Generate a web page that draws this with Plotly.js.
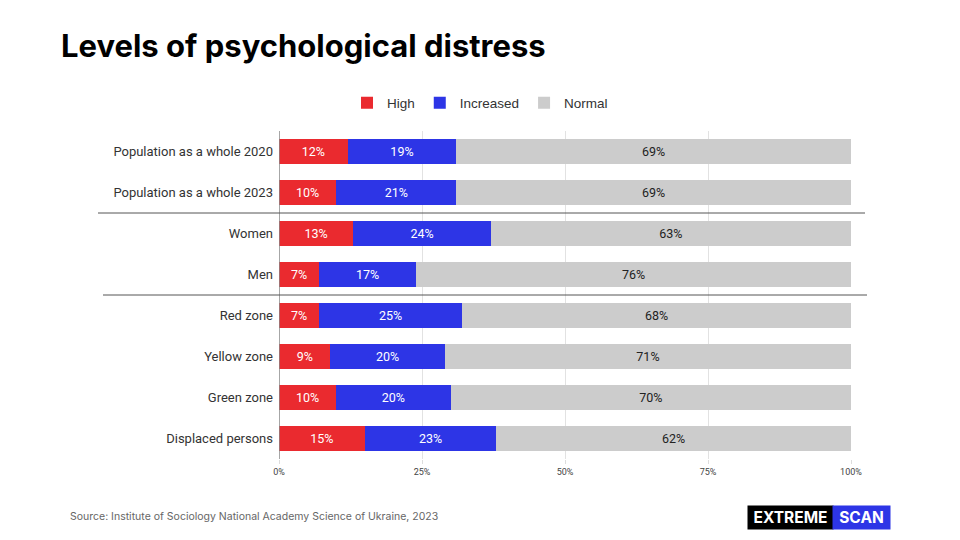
<!DOCTYPE html>
<html>
<head>
<meta charset="utf-8">
<script src="https://cdn.plot.ly/plotly-3.0.1.min.js"></script>
<style>
  html, body { margin: 0; padding: 0; background: #ffffff; }
  #chart { width: 960px; height: 540px; }
</style>
</head>
<body>
<div id="chart"></div>
<script>
// Groups shown on the vertical axis, top to bottom
const groups = [
  "Population as a whole 2020",
  "Population as a whole 2023",
  "Women",
  "Men",
  "Red zone",
  "Yellow zone",
  "Green zone",
  "Displaced persons"
];

// Share of respondents (%) in each distress level
const high      = [12, 10, 13, 7, 7, 9, 10, 15];
const increased = [19, 21, 24, 17, 25, 20, 20, 23];
const normal    = [69, 69, 63, 76, 68, 71, 70, 62];

const xTicks = [0, 25, 50, 75, 100];
const xTickLabels = ["0%", "25%", "50%", "75%", "100%"];

const labelFont = "Roboto, Arial, sans-serif";

function series(name, values, color, textColor) {
  return {
    type: "bar",
    orientation: "h",
    name: name,
    y: groups,
    x: values,
    marker: { color: color, line: { width: 0 } },
    width: 0.63,
    text: values.map(v => v + "%"),
    textposition: "inside",
    insidetextanchor: "middle",
    textfont: { family: labelFont, size: 12.5, color: textColor },
    hoverinfo: "skip"
  };
}

const data = [
  series("High", high, "#ea2a2f", "#ffffff"),
  series("Increased", increased, "#2d35e6", "#ffffff"),
  series("Normal", normal, "#cccccc", "#222222")
];

const layout = {
  width: 960,
  height: 540,
  paper_bgcolor: "#ffffff",
  plot_bgcolor: "#ffffff",
  margin: { l: 279, r: 109, t: 131, b: 81 },
  barmode: "stack",
  bargap: 0.37,
  showlegend: true,
  title: {
    text: "<b>Levels of psychological distress</b>",
    x: 61 / 960,
    xref: "container",
    xanchor: "left",
    y: 1 - 46 / 540,
    yref: "container",
    yanchor: "middle",
    font: { family: "Inter, Arial, sans-serif", size: 31, color: "#000000" }
  },
  legend: {
    orientation: "h",
    xref: "container",
    yref: "container",
    x: 0.5,
    xanchor: "center",
    y: 1 - 103 / 540,
    yanchor: "middle",
    font: { family: "Arial, 'Liberation Sans', sans-serif", size: 13.5, color: "#333333" },
    itemwidth: 30,
    traceorder: "normal"
  },
  xaxis: {
    range: [0, 100],
    tickvals: xTicks,
    ticktext: xTickLabels,
    tickfont: { family: labelFont, size: 9, color: "#444444" },
    ticks: "outside",
    ticklen: 4,
    tickcolor: "#dddddd",
    showgrid: true,
    gridcolor: "#e2e2e2",
    gridwidth: 1,
    zeroline: false,
    showline: false,
    fixedrange: true
  },
  yaxis: {
    autorange: "reversed",
    type: "category",
    tickfont: { family: labelFont, size: 13, color: "#333333" },
    ticks: "",
    ticklabelstandoff: 5,
    showgrid: false,
    zeroline: false,
    showline: false,
    fixedrange: true
  },
  shapes: [
    // vertical baseline at 0%
    { type: "line", xref: "x", yref: "paper", x0: 0, x1: 0, y0: 0, y1: 1,
      line: { color: "#888888", width: 1.5 } },
    // separators between group blocks
    { type: "line", xref: "paper", yref: "y", x0: (98 - 279) / 572, x1: (865 - 279) / 572,
      y0: 1.5, y1: 1.5, line: { color: "#555555", width: 1 } },
    { type: "line", xref: "paper", yref: "y", x0: (103 - 279) / 572, x1: (867 - 279) / 572,
      y0: 3.5, y1: 3.5, line: { color: "#555555", width: 1 } }
  ],
  annotations: [
    {
      text: "Source: Institute of Sociology National Academy Science of Ukraine, 2023",
      xref: "paper", yref: "paper",
      x: (68 - 279) / 572, xanchor: "left",
      y: (459.5 - 517) / 328.5, yanchor: "middle",
      showarrow: false,
      font: { family: "Inter, Arial, sans-serif", size: 10.5, color: "#666666" }
    },
    {
      text: "<b>EXTREME</b>",
      xref: "paper", yref: "paper",
      x: (747 - 279) / 572, xanchor: "left",
      y: (459.5 - 518) / 328.5, yanchor: "middle",
      width: 83, height: 21, borderpad: 1,
      bgcolor: "#000000",
      showarrow: false,
      font: { family: "Inter, Arial, sans-serif", size: 15.5, color: "#ffffff" }
    },
    {
      text: "<b>SCAN</b>",
      xref: "paper", yref: "paper",
      x: (832 - 279) / 572, xanchor: "left",
      y: (459.5 - 518) / 328.5, yanchor: "middle",
      width: 55, height: 21, borderpad: 1,
      bgcolor: "#2d35e6",
      showarrow: false,
      font: { family: "Inter, Arial, sans-serif", size: 15.5, color: "#ffffff" }
    }
  ]
};

Plotly.newPlot("chart", data, layout, { displayModeBar: false, staticPlot: true });
</script>
</body>
</html>
